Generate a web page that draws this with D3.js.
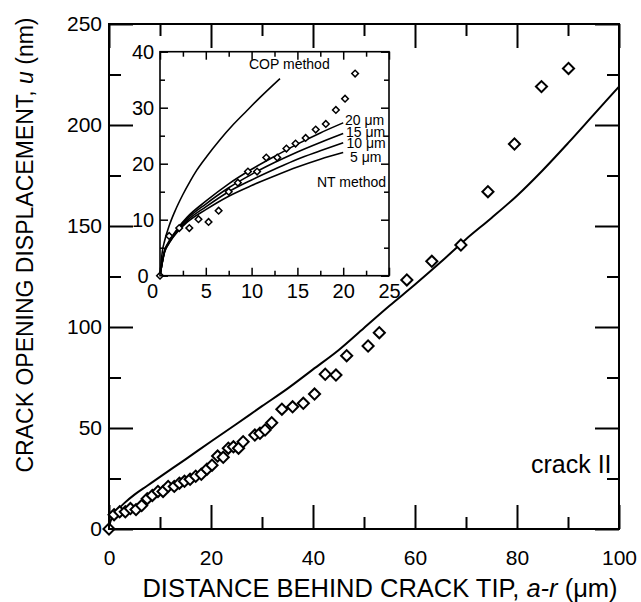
<!DOCTYPE html>
<html>
<head>
<meta charset="utf-8">
<script src="https://cdn.jsdelivr.net/npm/d3@7.9.0/dist/d3.min.js"></script>
<style>
  body { margin: 0; background: #fff; }
  svg { display: block; font-family: "Liberation Sans", Arial, sans-serif; }
</style>
</head>
<body>
<svg id="chart" width="641" height="602"></svg>
<script>
// measured crack opening (a-r in um, u in nm)
const expX = [0, 1.0, 2.1, 3.2, 4.2, 5.3, 6.4, 7.5, 8.5, 9.6, 10.6, 11.6, 12.8, 13.8, 14.8, 15.9, 17.0, 18.1, 19.2, 20.2, 21.3,
  22.4, 23.4, 24.4, 25.4, 26.3, 28.6, 29.6, 30.6, 31.9, 33.9, 36.0, 38.1, 40.3, 42.4, 44.5, 46.6, 50.8, 53.0,
  58.4, 63.3, 69.0, 74.3, 79.5, 84.8, 90.1];
const expU = [0, 7.1, 8.5, 8.5, 10.1, 9.6, 11.6, 15.0, 16.6, 18.6, 18.6, 21.1, 21.1, 22.7, 23.6, 24.6, 26.1, 27.1, 29.6, 31.6, 36.1,
  35.5, 40.0, 40.7, 40.0, 43.2, 46.5, 47.4, 49.0, 52.6, 59.3, 60.5, 62.2, 66.8, 76.6, 76.2, 85.8, 90.6, 97.2,
  123.3, 132.5, 140.6, 167.0, 190.6, 219.0, 228.0];

// model curve in main plot
const fitX = [0, 0.2, 0.5, 1, 2, 3, 5, 7.5, 10, 15, 20, 25, 30, 35, 40, 45, 50, 55, 60, 65, 70, 75, 80, 85, 90, 95, 100];
const fitU = [0, 3, 5, 7.3, 10.3, 12.8, 17, 21.4, 25.8, 34.5, 43.3, 52, 60.8, 69.5, 79, 88.5, 99.5, 110.5, 121, 132, 143.5, 154, 165, 177.5, 191, 205, 219];

// inset curves
const copX = [0, 0.25, 0.5, 1, 1.6, 2.5, 3.3, 4, 5.1, 6.5, 8, 9.5, 10.9, 13.1];
const copU = [0, 4.3, 6.2, 8.9, 11.4, 14.5, 16.9, 18.8, 21.3, 24.2, 27.0, 29.5, 31.8, 35.2];
const ntX = [0, 0.5, 1, 2, 3, 5, 7.5, 10, 12.5, 15, 17.5, 20];
const nt20 = [0, 4.5, 6.2, 8.6, 10.5, 13.3, 16.4, 19.0, 21.3, 23.5, 25.5, 27.3];
const nt15 = [0, 4.4, 6.0, 8.4, 10.2, 12.8, 15.7, 18.1, 20.2, 22.1, 23.8, 25.4];
const nt10 = [0, 4.3, 5.9, 8.2, 9.9, 12.3, 15.0, 17.1, 19.0, 20.8, 22.3, 23.75];
const nt5 = [0, 4.2, 5.8, 8.0, 9.6, 11.8, 14.2, 16.1, 17.8, 19.4, 20.8, 22.0];

const xMajor = [0, 20, 40, 60, 80, 100];
const xMinor = [10, 30, 50, 70, 90];
const yMajor = [0, 50, 100, 150, 200, 250];
const yMinor = [25, 75, 125, 175, 225];
const ixMajor = [0, 5, 10, 15, 20, 25];
const ixMinor = [2.5, 7.5, 12.5, 17.5, 22.5];
const iyMajor = [0, 10, 20, 30, 40];
const iyMinor = [5, 15, 25, 35];

const svg = d3.select('#chart');

const x = d3.scaleLinear().domain([0, 100]).range([109, 619]);
const y = d3.scaleLinear().domain([0, 250]).range([529, 24]);

const xi = d3.scaleLinear().domain([0, 25]).range([160, 389]);
const yi = d3.scaleLinear().domain([0, 40]).range([275.7, 51.7]);

// inward ticks, no labels
function tickAxis(axis, vals, size, tx, ty, sw) {
  const g = svg.append('g')
    .attr('transform', `translate(${tx},${ty})`)
    .call(axis.tickValues(vals).tickSize(-size).tickFormat(''));
  g.select('.domain').remove();
  g.selectAll('.tick line').attr('stroke', '#000').attr('stroke-width', sw);
  return g;
}

// labels only
function labelAxis(axis, vals, pad, tx, ty, fs) {
  const g = svg.append('g')
    .attr('transform', `translate(${tx},${ty})`)
    .call(axis.tickValues(vals).tickSize(0).tickPadding(pad));
  g.select('.domain').remove();
  g.selectAll('.tick line').remove();
  g.selectAll('text').attr('fill', '#000').style('font-size', fs + 'px')
    .style('font-family', '"Liberation Sans", Arial, sans-serif');
  return g;
}

// main ticks
tickAxis(d3.axisBottom(x), xMajor, 24, 0, 529, 2);
tickAxis(d3.axisBottom(x), xMinor, 12, 0, 529, 2);
tickAxis(d3.axisTop(x), xMajor, 24, 0, 24, 2);
tickAxis(d3.axisTop(x), xMinor, 12, 0, 24, 2);
tickAxis(d3.axisLeft(y), yMajor, 24, 109, 0, 2);
tickAxis(d3.axisLeft(y), yMinor, 12, 109, 0, 2);
tickAxis(d3.axisRight(y), yMajor, 24, 619, 0, 2);
tickAxis(d3.axisRight(y), yMinor, 12, 619, 0, 2);

labelAxis(d3.axisBottom(x), xMajor, 21, 0, 529, 21);
labelAxis(d3.axisLeft(y), yMajor, 7, 109, 0, 21);

// main curve
const line = d3.line().x(d => x(d[0])).y(d => y(d[1])).curve(d3.curveMonotoneX);
svg.append('path')
  .datum(d3.zip(fitX, fitU))
  .attr('d', line)
  .attr('fill', 'none')
  .attr('stroke', '#000')
  .attr('stroke-width', 2);

// main points
const bigDiamond = d3.symbol(d3.symbolSquare, 62);
svg.append('g').selectAll('path')
  .data(d3.zip(expX, expU))
  .join('path')
  .attr('d', bigDiamond)
  .attr('transform', d => `translate(${x(d[0])},${y(d[1])}) rotate(45)`)
  .attr('fill', '#fff')
  .attr('stroke', '#000')
  .attr('stroke-width', 2);

svg.append('rect')
  .attr('x', 109).attr('y', 24)
  .attr('width', 510).attr('height', 505)
  .attr('fill', 'none').attr('stroke', '#000').attr('stroke-width', 2);

// ---- inset ----
svg.append('rect')
  .attr('x', 160).attr('y', 51.7)
  .attr('width', 229).attr('height', 224)
  .attr('fill', '#fff');

tickAxis(d3.axisBottom(xi), ixMajor, 8, 0, 275.7, 1.5);
tickAxis(d3.axisBottom(xi), ixMinor, 5, 0, 275.7, 1.5);
tickAxis(d3.axisTop(xi), ixMajor, 8, 0, 51.7, 1.5);
tickAxis(d3.axisTop(xi), ixMinor, 5, 0, 51.7, 1.5);
tickAxis(d3.axisLeft(yi), iyMajor, 8, 160, 0, 1.5);
tickAxis(d3.axisLeft(yi), iyMinor, 5, 160, 0, 1.5);
tickAxis(d3.axisRight(yi), iyMajor, 8, 389, 0, 1.5);
tickAxis(d3.axisRight(yi), iyMinor, 5, 389, 0, 1.5);

const ixl = labelAxis(d3.axisBottom(xi), ixMajor, 8, 0, 275.7, 20);
ixl.selectAll('text').attr('dx', d => d === 0 ? -8 : 0);
const iyl = labelAxis(d3.axisLeft(yi), iyMajor, 0, 0, 0, 20);
iyl.selectAll('text').attr('x', 143).attr('text-anchor', 'middle');

const iline = d3.line().x(d => xi(d[0])).y(d => yi(d[1])).curve(d3.curveMonotoneX);
const insetCurves = [d3.zip(copX, copU), d3.zip(ntX, nt20), d3.zip(ntX, nt15), d3.zip(ntX, nt10), d3.zip(ntX, nt5)];
svg.append('g').selectAll('path')
  .data(insetCurves)
  .join('path')
  .attr('d', iline)
  .attr('fill', 'none')
  .attr('stroke', '#000')
  .attr('stroke-width', 1.6);

const smallDiamond = d3.symbol(d3.symbolSquare, 22);
svg.append('g').selectAll('path')
  .data(d3.zip(expX, expU).filter(d => d[0] <= 22 && d[1] <= 40))
  .join('path')
  .attr('d', smallDiamond)
  .attr('transform', d => `translate(${xi(d[0])},${yi(d[1])}) rotate(45)`)
  .attr('fill', '#fff')
  .attr('stroke', '#000')
  .attr('stroke-width', 1.5);

svg.append('rect')
  .attr('x', 160).attr('y', 51.7)
  .attr('width', 229).attr('height', 224)
  .attr('fill', 'none').attr('stroke', '#000').attr('stroke-width', 1.6);

// inset labels (tight stack like the original)
const insetLabels = [
  { t: 'COP method', x: 249, y: 69 },
  { t: '20 μm', x: 345, y: 125 },
  { t: '15 μm', x: 346, y: 136.5 },
  { t: '10 μm', x: 346.5, y: 148 },
  { t: '5 μm', x: 350, y: 161.5 },
  { t: 'NT method', x: 317, y: 186.5 }
];
svg.append('g').selectAll('text')
  .data(insetLabels)
  .join('text')
  .attr('x', d => d.x).attr('y', d => d.y)
  .style('font-size', '14px')
  .text(d => d.t);

svg.append('text')
  .attr('x', 531).attr('y', 473)
  .style('font-size', '25px')
  .text('crack II');

// axis titles
const xt = svg.append('text')
  .attr('x', 380).attr('y', 597)
  .attr('text-anchor', 'middle')
  .style('font-size', '25.5px');
xt.append('tspan').text('DISTANCE BEHIND CRACK TIP, ');
xt.append('tspan').style('font-style', 'italic').text('a-r');
xt.append('tspan').text(' (μm)');

const yt = svg.append('text')
  .attr('transform', 'translate(33,245) rotate(-90)')
  .attr('text-anchor', 'middle')
  .style('font-size', '23px');
yt.append('tspan').text('CRACK OPENING DISPLACEMENT, ');
yt.append('tspan').style('font-style', 'italic').text('u');
yt.append('tspan').text(' (nm)');
</script>
</body>
</html>
